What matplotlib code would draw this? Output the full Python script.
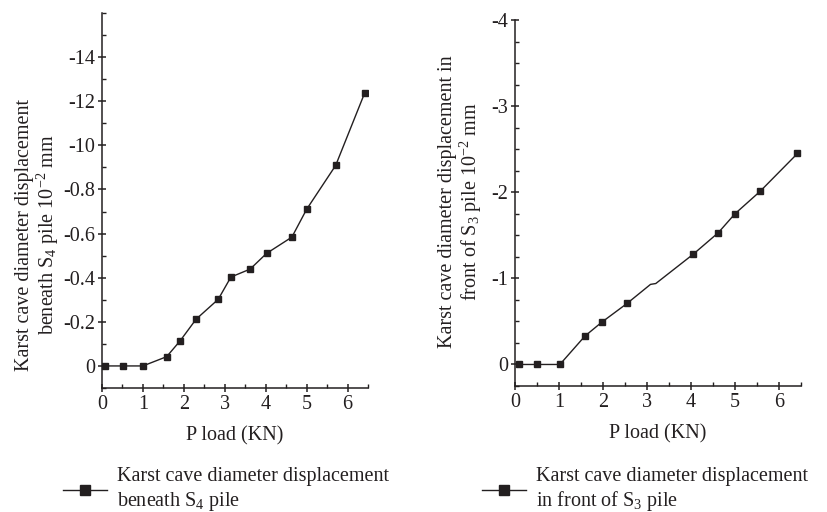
import numpy as np
import matplotlib
matplotlib.use('Agg')
import matplotlib.pyplot as plt
from matplotlib.ticker import MultipleLocator

plt.rcParams['font.family'] = 'Liberation Serif'
plt.rcParams['mathtext.fontset'] = 'custom'
plt.rcParams['mathtext.rm'] = 'Liberation Serif'
plt.rcParams['mathtext.it'] = 'Liberation Serif:italic'

# data
load_s4 = [0.08, 0.52, 1.0, 1.58, 1.91, 2.30, 2.84, 3.15, 3.62, 4.02, 4.64, 5.0, 5.71, 6.42]
disp_s4 = [0, 0, 0, -0.042, -0.114, -0.212, -0.302, -0.403, -0.439, -0.51, -0.584, -0.71, -0.909, -1.238]
yticks_s4 = [0, -0.2, -0.4, -0.6, -0.8, -1.0, -1.2, -1.4]
ylabels_s4 = ['0', '-0.2', '-0.4', '-0.6', '-0.8', '-10', '-12', '-14']

load_s3 = [0.09, 0.50, 1.02, 1.59, 1.97, 2.55, 3.08, 3.20, 4.05, 4.62, 5.0, 5.57, 6.42]
disp_s3 = [0, 0, 0, -0.33, -0.49, -0.71, -0.93, -0.94, -1.28, -1.53, -1.75, -2.01, -2.45]
marked_s3 = [0, 1, 2, 3, 4, 5, 8, 9, 10, 11, 12]
yticks_s3 = [0, -1, -2, -3, -4]
ylabels_s3 = ['0', '-1', '-2', '-3', '-4']

xticks = [0, 1, 2, 3, 4, 5, 6]

col = '#231f20'
fs = 14.5
W, H = 827, 512

fig = plt.figure(figsize=(8.27, 5.12), dpi=100)

def px_axes(x0, x1, y0, y1):
    return fig.add_axes([x0 / W, 1 - y1 / H, (x1 - x0) / W, (y1 - y0) / H])

def style(ax):
    for s in ['top', 'right']:
        ax.spines[s].set_visible(False)
    for s in ['left', 'bottom']:
        ax.spines[s].set_linewidth(1.1)
        ax.spines[s].set_color(col)
    ax.tick_params(which='major', direction='inout', length=6, width=1.1, color=col,
                   labelsize=fs, labelcolor=col, pad=2)
    ax.tick_params(which='minor', direction='in', length=3, width=1.0, color=col)
    ax.set_xlim(0, 6.5)
    ax.set_xticks(xticks)
    ax.xaxis.set_minor_locator(MultipleLocator(0.5))
    ax.set_xlabel('P load (KN)', fontsize=fs, color=col, labelpad=9)

# left panel
ax1 = px_axes(102, 368, 13, 388)
style(ax1)
l1, = ax1.plot(load_s4, disp_s4, '-', color=col, lw=1.0, marker='s', ms=5, mfc=col, mec=col)
ax1.set_ylim(0.1, -1.6)
ax1.set_yticks(yticks_s4)
ax1.set_yticklabels(ylabels_s4)
ax1.yaxis.set_minor_locator(MultipleLocator(0.1))
fig.text(38 / W, 1 - 235 / H,
         'Karst cave diameter displacement\nbeneath S$_\\mathregular{4}$ pile 10$^\\mathregular{-2}$ mm',
         rotation=90, ha='center', va='center', multialignment='center', fontsize=fs, color=col,
         linespacing=1.05)
fig.legend([l1], ['Karst cave diameter displacement\nbeneath S$_\\mathregular{4}$ pile'],
           loc='center left', bbox_to_anchor=(53 / W, 1 - 490 / H), frameon=False,
           fontsize=fs, handlelength=2.2, handletextpad=0.5, labelcolor=col, borderpad=0,
           markerscale=1.4)

# right panel
ax2 = px_axes(515, 801, 20, 386)
style(ax2)
l2, = ax2.plot(load_s3, disp_s3, '-', color=col, lw=1.0, marker='s', ms=5, mfc=col, mec=col,
               markevery=marked_s3)
ax2.set_ylim(0.25, -4.0)
ax2.set_yticks(yticks_s3)
ax2.set_yticklabels(ylabels_s3)
ax2.yaxis.set_minor_locator(MultipleLocator(0.25))
fig.text(461 / W, 1 - 202 / H,
         'Karst cave diameter displacement in\nfront of S$_\\mathregular{3}$ pile 10$^\\mathregular{-2}$ mm',
         rotation=90, ha='center', va='center', multialignment='center', fontsize=fs, color=col,
         linespacing=1.05)
fig.legend([l2], ['Karst cave diameter displacement\nin front of S$_\\mathregular{3}$ pile'],
           loc='center left', bbox_to_anchor=(472 / W, 1 - 490 / H), frameon=False,
           fontsize=fs, handlelength=2.2, handletextpad=0.5, labelcolor=col, borderpad=0,
           markerscale=1.4)

fig.savefig('out.png', dpi=100)
